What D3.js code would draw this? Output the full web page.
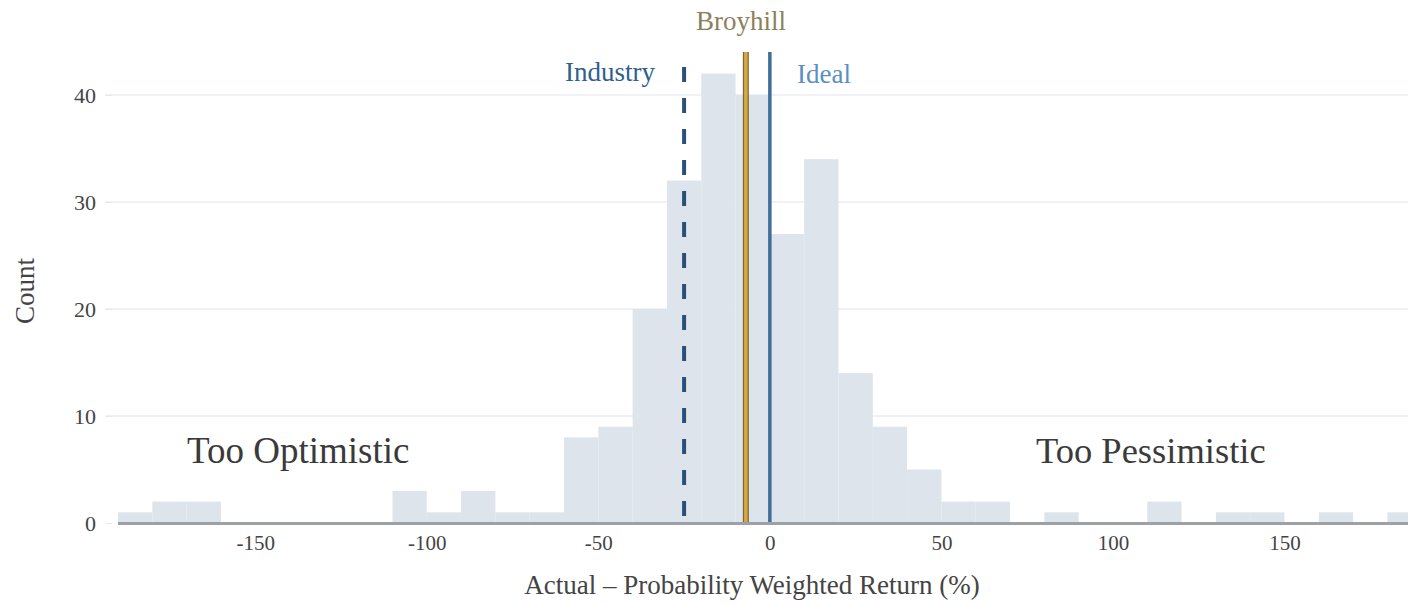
<!DOCTYPE html>
<html><head><meta charset="utf-8">
<script src="https://cdn.jsdelivr.net/npm/d3@7"></script>
<style>body{margin:0;background:#fff;} svg{display:block;}</style>
</head><body>
<svg id="c" width="1408" height="603"></svg>
<script>
const binStarts = [-190,-180,-170,-160,-150,-140,-130,-120,-110,-100,-90,-80,-70,-60,-50,-40,-30,-20,-10,0,10,20,30,40,50,60,70,80,90,100,110,120,130,140,150,160,170,180];
const counts    = [1,2,2,0,0,0,0,0,3,1,3,1,1,8,9,20,32,42,40,27,34,14,9,5,2,2,0,1,0,0,2,0,1,1,0,1,0,1];
const binWidth = 10;
const yTicks = [0,10,20,30,40];
const xTicks = [-150,-100,-50,0,50,100,150];
const refNames = ["Industry","Broyhill","Ideal"];
const refValues = [-25,-7,0];

const svg = d3.select("#c");
const font = "'Liberation Serif', 'DejaVu Serif', serif";
const x = d3.scaleLinear().domain([-190,186]).range([118,1408]);
const y = d3.scaleLinear().domain([0,40]).range([523,95]);

// gridlines
svg.append("g").selectAll("line").data(yTicks.filter(d=>d>0)).join("line")
  .attr("x1",105).attr("x2",1408).attr("y1",d=>y(d)).attr("y2",d=>y(d))
  .attr("stroke","#eef1f6").attr("stroke-width",2);

// bars
svg.append("g").selectAll("rect").data(binStarts.map((s,i)=>({s,c:counts[i]})).filter(d=>d.c>0)).join("rect")
  .attr("x",d=>x(d.s)).attr("width",d=>Math.min(x(d.s+binWidth),1408)-x(d.s))
  .attr("y",d=>y(d.c)).attr("height",d=>y(0)-y(d.c))
  .attr("fill","#dde4ec");

// y axis
const ya = svg.append("g").attr("transform","translate(112,0)")
  .call(d3.axisLeft(y).tickValues(yTicks).tickSize(6).tickPadding(10));
ya.select(".domain").remove();
ya.selectAll(".tick line").attr("stroke","#e4e8ee");
ya.selectAll("text").attr("font-family",font).attr("font-size",22).attr("fill","#444");

// x axis
const xa = svg.append("g").attr("transform","translate(0,523)")
  .call(d3.axisBottom(x).tickValues(xTicks).tickFormat(d=>String(d)).tickSize(0).tickPadding(12));
xa.select(".domain").remove();
xa.selectAll("text").attr("font-family",font).attr("font-size",21).attr("fill","#444");
svg.append("line").attr("x1",118).attr("x2",1408).attr("y1",523.5).attr("y2",523.5)
  .attr("stroke","#9ca1a8").attr("stroke-width",3);

// reference lines
svg.append("line").attr("x1",x(refValues[0])).attr("x2",x(refValues[0])).attr("y1",67).attr("y2",522)
  .attr("stroke","#2b5078").attr("stroke-width",4).attr("stroke-dasharray","15,16");
svg.append("line").attr("x1",x(refValues[1])).attr("x2",x(refValues[1])).attr("y1",52).attr("y2",522)
  .attr("stroke","#7a6a3a").attr("stroke-width",6);
svg.append("line").attr("x1",x(refValues[1])).attr("x2",x(refValues[1])).attr("y1",52).attr("y2",522)
  .attr("stroke","#d9a840").attr("stroke-width",3.5);
svg.append("line").attr("x1",x(refValues[2])).attr("x2",x(refValues[2])).attr("y1",52).attr("y2",522)
  .attr("stroke","#3f6e99").attr("stroke-width",3.5);

// labels
svg.append("text").attr("x",741).attr("y",30).attr("text-anchor","middle")
  .attr("font-family",font).attr("font-size",27).attr("fill","#8c7f5c").text(refNames[1]);
svg.append("text").attr("x",655).attr("y",81).attr("text-anchor","end")
  .attr("font-family",font).attr("font-size",27).attr("fill","#2f5f8f").text(refNames[0]);
svg.append("text").attr("x",797).attr("y",83).attr("text-anchor","start")
  .attr("font-family",font).attr("font-size",27).attr("fill","#5a8fc4").text(refNames[2]);

svg.append("text").attr("x",187).attr("y",463).attr("font-family",font).attr("font-size",37)
  .attr("fill","#3a3a3a").text("Too Optimistic");
svg.append("text").attr("x",1036).attr("y",463).attr("font-family",font).attr("font-size",36.5)
  .attr("fill","#3a3a3a").text("Too Pessimistic");

// axis titles
svg.append("text").attr("x",752).attr("y",594).attr("text-anchor","middle")
  .attr("font-family",font).attr("font-size",27).attr("fill","#444")
  .text("Actual – Probability Weighted Return (%)");
svg.append("text").attr("transform","translate(34,291) rotate(-90)").attr("text-anchor","middle")
  .attr("font-family",font).attr("font-size",27).attr("fill","#444").text("Count");
</script>
</body></html>
